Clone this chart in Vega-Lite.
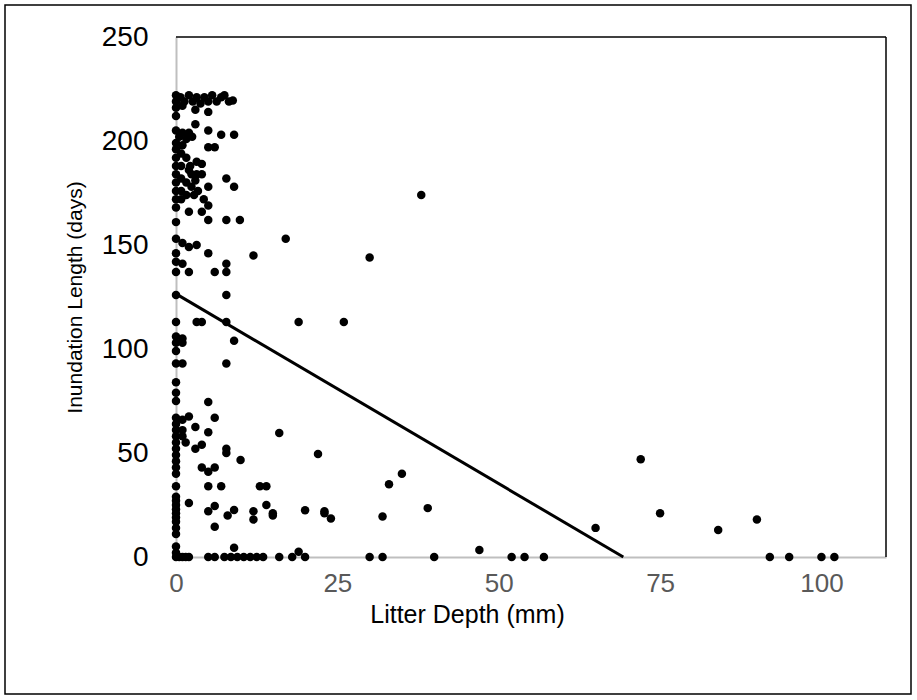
{
  "$schema": "https://vega.github.io/schema/vega-lite/v6.json",
  "width": 906,
  "height": 689,
  "autosize": "none",
  "padding": {"left": 5, "top": 5, "right": 6, "bottom": 6},
  "background": "white",
  "config": {
    "view": {"stroke": "black", "strokeWidth": 1.5},
    "font": "Liberation Sans"
  },
  "datasets": {
    "pts": [
      {"depth":0,"days":222},{"depth":0,"days":219},{"depth":0.7,"days":221},{"depth":1.3,"days":219},{"depth":2,"days":222},{"depth":2.6,"days":219},{"depth":3.2,"days":221},{"depth":3.8,"days":218},{"depth":4.4,"days":221},{"depth":5,"days":219},{"depth":5.6,"days":222},{"depth":6.3,"days":219},{"depth":7,"days":221},{"depth":7.5,"days":222},{"depth":8.2,"days":219},{"depth":8.8,"days":219.5},
      {"depth":0,"days":216},{"depth":3,"days":215},{"depth":5,"days":214},{"depth":1,"days":217},{"depth":0,"days":212},{"depth":3,"days":208},
      {"depth":0,"days":205},{"depth":0.5,"days":202},{"depth":1,"days":204},{"depth":1.6,"days":201},{"depth":2,"days":204},{"depth":2.5,"days":202},{"depth":5,"days":205},{"depth":7,"days":203},{"depth":9,"days":203},
      {"depth":0,"days":199},{"depth":1,"days":198},{"depth":5,"days":197},{"depth":6,"days":197},
      {"depth":0,"days":196},{"depth":0,"days":192},{"depth":0,"days":188},{"depth":0,"days":184},{"depth":0,"days":180},{"depth":0,"days":176},{"depth":0,"days":172},{"depth":0.8,"days":194},{"depth":0.8,"days":188},{"depth":0.8,"days":182},{"depth":0.8,"days":176},{"depth":0.8,"days":172},{"depth":1.6,"days":192},{"depth":1.6,"days":180},{"depth":1.6,"days":174},{"depth":2.2,"days":188},{"depth":2.4,"days":184},{"depth":2.4,"days":178},{"depth":2.8,"days":174},{"depth":3.2,"days":190},{"depth":3.2,"days":184},{"depth":3.4,"days":176},{"depth":4,"days":189},{"depth":4,"days":184},{"depth":4.3,"days":172},{"depth":5,"days":178},{"depth":7.8,"days":182},{"depth":9,"days":178},{"depth":2,"days":186},{"depth":3,"days":181},
      {"depth":0,"days":168},{"depth":5,"days":169},{"depth":2,"days":166},{"depth":4,"days":166},{"depth":0,"days":161},{"depth":5,"days":162},{"depth":7.8,"days":162},{"depth":9.9,"days":162},
      {"depth":0,"days":153},{"depth":1,"days":151},{"depth":2,"days":149},{"depth":3.2,"days":150},{"depth":17,"days":153},
      {"depth":0,"days":146},{"depth":5,"days":146},{"depth":12,"days":145},{"depth":30,"days":144},{"depth":38,"days":174},
      {"depth":0,"days":142},{"depth":1,"days":141},{"depth":7.8,"days":141},{"depth":0,"days":137},{"depth":2,"days":137},{"depth":6,"days":137},{"depth":7.8,"days":137},
      {"depth":0,"days":126},{"depth":7.8,"days":126},
      {"depth":0,"days":113},{"depth":3.2,"days":113},{"depth":4,"days":113},{"depth":7.8,"days":113},{"depth":19,"days":113},{"depth":26,"days":113},
      {"depth":0,"days":106},{"depth":1,"days":105},{"depth":0,"days":103},{"depth":1,"days":103},{"depth":9,"days":104},
      {"depth":0,"days":99},{"depth":0,"days":93},{"depth":1,"days":93},{"depth":7.8,"days":93},
      {"depth":0,"days":84},{"depth":0,"days":79},{"depth":0,"days":75},{"depth":5,"days":74.5},
      {"depth":0,"days":67},{"depth":1,"days":66},{"depth":2,"days":67.5},{"depth":6,"days":67},{"depth":0,"days":64},{"depth":3,"days":62.5},{"depth":0,"days":61},{"depth":1,"days":61},{"depth":5,"days":60},{"depth":0,"days":58},{"depth":1,"days":58},{"depth":16,"days":59.6},
      {"depth":0,"days":55},{"depth":1.5,"days":55},{"depth":0,"days":52},{"depth":3,"days":52},{"depth":4,"days":54},{"depth":7.8,"days":52},{"depth":7.8,"days":50},{"depth":0,"days":49},{"depth":22,"days":49.5},{"depth":0,"days":46},{"depth":10,"days":46.6},{"depth":0,"days":43},{"depth":4,"days":43},{"depth":5,"days":41},{"depth":6,"days":43},{"depth":0,"days":40},{"depth":35,"days":40},{"depth":72,"days":47},
      {"depth":0,"days":34},{"depth":5,"days":34},{"depth":7,"days":34},{"depth":13,"days":34},{"depth":14,"days":34},{"depth":33,"days":35},
      {"depth":0,"days":29},{"depth":0,"days":27},{"depth":2,"days":26},{"depth":0,"days":25},{"depth":6,"days":24.5},{"depth":14,"days":25},{"depth":0,"days":23},{"depth":5,"days":22},{"depth":9,"days":22.6},{"depth":12,"days":22},{"depth":15,"days":21},{"depth":20,"days":22.5},{"depth":23,"days":21},{"depth":24,"days":18.5},{"depth":23,"days":22},{"depth":39,"days":23.5},{"depth":32,"days":19.5},{"depth":0,"days":21},{"depth":8,"days":20},{"depth":12,"days":18},{"depth":15,"days":20},{"depth":0,"days":19},{"depth":0,"days":17},{"depth":6,"days":14.6},{"depth":0,"days":14},{"depth":0,"days":11},{"depth":65,"days":14},{"depth":75,"days":21},{"depth":84,"days":13},{"depth":90,"days":18},
      {"depth":0,"days":5},{"depth":9,"days":4.5},{"depth":19,"days":2.5},{"depth":47,"days":3.4},{"depth":0,"days":2},{"depth":0,"days":0},{"depth":0.5,"days":0},{"depth":1,"days":0},{"depth":1.5,"days":0},{"depth":2,"days":0},{"depth":5,"days":0},{"depth":6,"days":0},{"depth":7.5,"days":0},{"depth":8.5,"days":0},{"depth":9.5,"days":0},{"depth":10.5,"days":0},{"depth":11.5,"days":0},{"depth":12.5,"days":0},{"depth":13.5,"days":0},{"depth":16,"days":0},{"depth":18,"days":0},{"depth":20,"days":0},{"depth":30,"days":0},{"depth":32,"days":0},{"depth":40,"days":0},{"depth":52,"days":0},{"depth":54,"days":0},{"depth":57,"days":0},{"depth":92,"days":0},{"depth":95,"days":0},{"depth":100,"days":0},{"depth":102,"days":0}
    ],
    "fit": [{"depth": 0, "days": 126.5}, {"depth": 69.3, "days": 0}]
  },
  "layer": [
    {
      "data": {"values": [{}]},
      "mark": {"type": "rule", "color": "black", "strokeWidth": 1.5},
      "encoding": {
        "x": {"datum": 0, "type": "quantitative", "scale": {"domain": [0, 110], "range": [171, 881], "nice": false}},
        "x2": {"datum": 110},
        "y": {"datum": 250, "type": "quantitative", "scale": {"domain": [0, 250], "range": [552, 32], "nice": false}}
      }
    },
    {
      "data": {"values": [{}]},
      "mark": {"type": "rule", "color": "black", "strokeWidth": 1.5},
      "encoding": {
        "x": {"datum": 110, "type": "quantitative"},
        "y": {"datum": 0, "type": "quantitative"},
        "y2": {"datum": 250}
      }
    },
    {
      "data": {"name": "pts"},
      "mark": {"type": "circle", "size": 72, "color": "black", "opacity": 1},
      "encoding": {
        "x": {
          "field": "depth", "type": "quantitative",
          "scale": {"domain": [0, 110], "range": [171, 881], "nice": false},
          "axis": {
            "title": "Litter Depth (mm)", "values": [0, 25, 50, 75, 100], "ticks": false, "grid": false, "labelFlush": false,
            "domainColor": "#bfbfbf", "domainWidth": 2,
            "labelColor": "#595959", "labelFontSize": 26, "labelPadding": 13, "labelFont": "Liberation Sans",
            "titleFontSize": 25, "titleFontWeight": "normal", "titleColor": "black", "titlePadding": 6, "titleFont": "Liberation Sans",
            "titleX": 462,
            "offset": -137
          }
        },
        "y": {
          "field": "days", "type": "quantitative",
          "scale": {"domain": [0, 250], "range": [552, 32], "nice": false},
          "axis": {
            "title": "Inundation Length (days)", "values": [0, 50, 100, 150, 200, 250], "ticks": false, "grid": false,
            "domainColor": "#bfbfbf", "domainWidth": 2,
            "labelColor": "black", "labelFontSize": 28, "labelPadding": 28, "labelFont": "Liberation Sans",
            "titleFontSize": 21, "titleFontWeight": "normal", "titleColor": "black", "titlePadding": 16, "titleFont": "Liberation Sans",
            "offset": -171
          }
        }
      }
    },
    {
      "data": {"name": "fit"},
      "mark": {"type": "line", "color": "black", "strokeWidth": 3},
      "encoding": {
        "x": {"field": "depth", "type": "quantitative"},
        "y": {"field": "days", "type": "quantitative"}
      }
    }
  ]
}
